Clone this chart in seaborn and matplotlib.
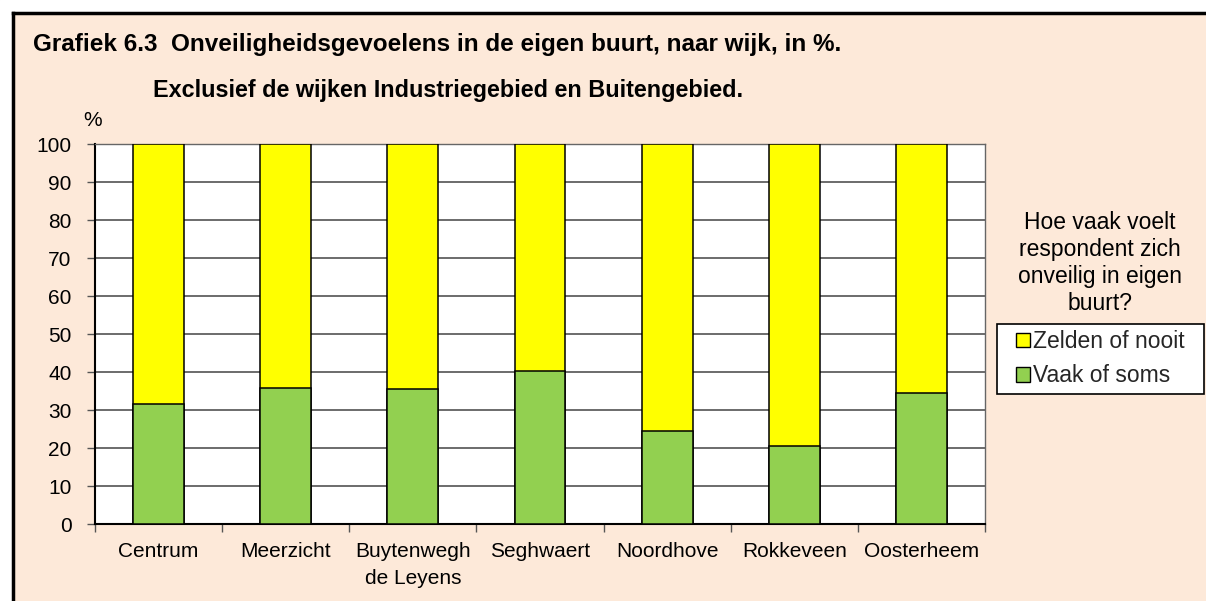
import matplotlib
matplotlib.use("Agg")
import matplotlib.pyplot as plt
import seaborn as sns
import pandas as pd
import numpy as np
from matplotlib.patches import Patch, Rectangle
from matplotlib.lines import Line2D

wijken = ["Centrum", "Meerzicht", "Buytenwegh\nde Leyens", "Seghwaert",
          "Noordhove", "Rokkeveen", "Oosterheem"]
vaak_of_soms = [31.6, 35.7, 35.4, 40.3, 24.4, 20.4, 34.5]
zelden_of_nooit = [100 - v for v in vaak_of_soms]
legend_labels = ["Zelden of nooit", "Vaak of soms"]
legend_title_lines = ["Hoe vaak voelt", "respondent zich", "onveilig in eigen", "buurt?"]
yticks = list(range(0, 101, 10))

sns.set_theme(style="white")
plt.rcParams['font.family'] = ['Liberation Sans', 'DejaVu Sans']

bg = "#FDE9D9"
yellow = "#FFFF00"
green = "#92D050"

fig = plt.figure(figsize=(12.06, 6.01), dpi=100, facecolor=bg)
W, H = 1206, 601
ax = fig.add_axes([95 / W, 1 - 524 / H, (985 - 95) / W, (524 - 144) / H])
ax.set_facecolor("white")

df = pd.DataFrame({"wijk": wijken, "vaak": vaak_of_soms,
                   "totaal": [z + v for z, v in zip(zelden_of_nooit, vaak_of_soms)]})

sns.barplot(data=df, x="wijk", y="totaal", color=yellow, width=0.4,
            edgecolor="black", linewidth=1.1, saturation=1, ax=ax, zorder=3)
sns.barplot(data=df, x="wijk", y="vaak", color=green, width=0.4,
            edgecolor="black", linewidth=1.1, saturation=1, ax=ax, zorder=4)

ax.set_xlim(-0.5, len(wijken) - 0.5)
ax.set_ylim(0, 100)
ax.set_yticks(yticks)
ax.set_yticklabels([str(t) for t in yticks], fontsize=15)
ax.set_xticks(range(len(wijken)))
ax.set_xticklabels(wijken, fontsize=15, linespacing=1.5)
ax.set_xticks(np.arange(-0.5, len(wijken), 1), minor=True)
ax.tick_params(axis="x", which="major", length=0, pad=13)
ax.tick_params(axis="x", which="minor", length=6, width=1, color="#555555", direction="out", bottom=True)
ax.tick_params(axis="y", which="major", length=6, width=1, color="#555555", direction="out", left=True, pad=11)
ax.set_xlabel("")
ax.set_ylabel("")
for t in ax.get_xticklabels() + ax.get_yticklabels():
    t.set_color("black")

ax.yaxis.grid(True, color="#444444", linewidth=1.1, zorder=0)
ax.set_axisbelow(True)
for s in ["left", "bottom"]:
    ax.spines[s].set_color("black")
    ax.spines[s].set_linewidth(1.5)
for s in ["top", "right"]:
    ax.spines[s].set_color("#666666")
    ax.spines[s].set_linewidth(1.0)

# Titles
fig.text(33 / W, 1 - 45 / H, "Grafiek 6.3  Onveiligheidsgevoelens in de eigen buurt, naar wijk, in %.",
         fontsize=17.5, fontweight="bold", ha="left", va="center", color="black")
fig.text(448 / W, 1 - 91 / H, "Exclusief de wijken Industriegebied en Buitengebied.",
         fontsize=16.8, fontweight="bold", ha="center", va="center", color="black")
fig.text(93 / W, 1 - 120 / H, "%", fontsize=15, ha="center", va="center", color="black")

# Legend title lines
for i, line in enumerate(legend_title_lines):
    fig.text(1100 / W, 1 - (229 + 27 * i) / H, line, fontsize=16.5,
             ha="center", va="baseline", color="black")

# Legend box
fig.add_artist(Rectangle((997 / W, 1 - 394 / H), (1204 - 997) / W, (394 - 324) / H,
                         transform=fig.transFigure, facecolor="white", edgecolor="black",
                         linewidth=1.2, zorder=2))
handles = [Patch(facecolor=yellow, edgecolor="black", linewidth=1),
           Patch(facecolor=green, edgecolor="black", linewidth=1)]
leg = fig.legend(handles, legend_labels, loc="upper left",
                 bbox_to_anchor=(1016 / W, 1 - 330 / H), fontsize=16.5,
                 frameon=False, handlelength=0.6, handleheight=0.6,
                 handletextpad=0.15, borderpad=0, labelspacing=0.5, borderaxespad=0)
leg.set_zorder(3)

# Outer frame (left and top)
fig.add_artist(Line2D([12.5 / W, 12.5 / W], [0, 1 - 12.5 / H], transform=fig.transFigure,
                      color="black", linewidth=2.5, solid_capstyle="projecting"))
fig.add_artist(Line2D([12.5 / W, 1], [1 - 12.5 / H, 1 - 12.5 / H], transform=fig.transFigure,
                      color="black", linewidth=2.5, solid_capstyle="projecting"))
fig.add_artist(Rectangle((0, 0), 11 / W, 1, transform=fig.transFigure, color="white", zorder=-1))
fig.add_artist(Rectangle((0, 1 - 11 / H), 1, 11 / H, transform=fig.transFigure, color="white", zorder=-1))

fig.savefig("out.png", dpi=100, facecolor=bg)
